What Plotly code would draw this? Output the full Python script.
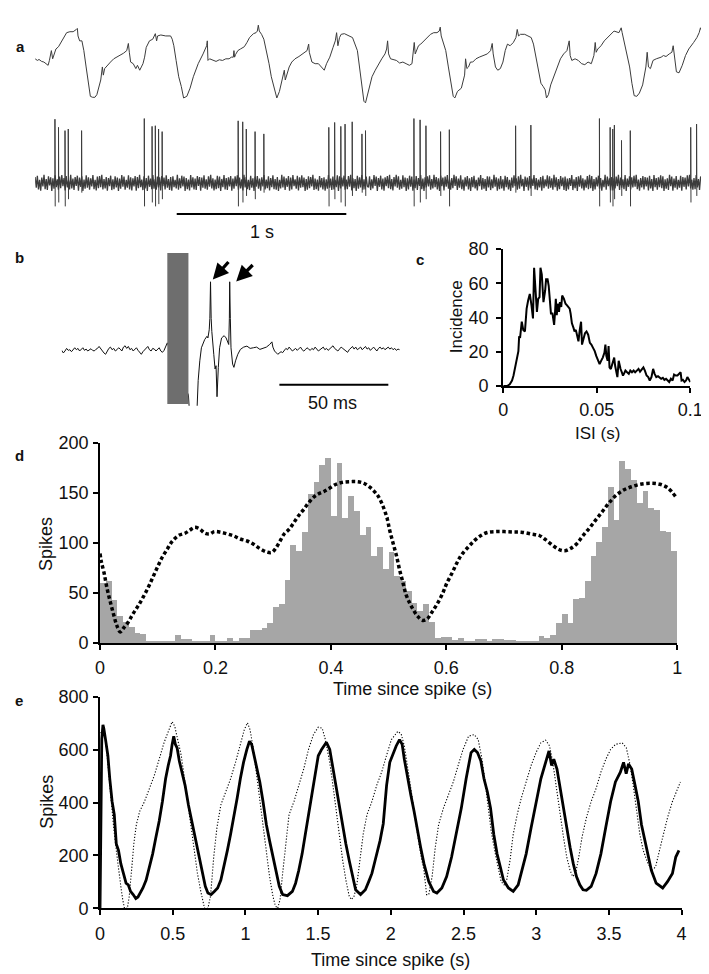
import numpy as np
import plotly.graph_objects as go

W, H = 709, 974

# ---------------- Panel a : field potential (sample index @ 522 Hz, amplitude a.u.)
A_FS = 522.0
A_TOP = [(0,125),(7,120),(12,123),(20,117),(27,115),(32,110),(40,105),(44,120),(50,150),(54,125),(58,140),(64,155),(72,162),(82,180),(90,195),(97,205),(107,208),(117,208),(127,215),(130,218),(132,195),(137,180),(144,180),(150,150),(157,100),(164,50),(170,10),(177,7),(184,7),(190,15),(196,40),(202,60),(207,100),(210,75),(214,95),(222,105),(232,115),(242,125),(252,130),(262,135),(272,142),(282,150),(287,172),(290,145),(294,115),(302,110),(310,95),(315,105),(322,90),(327,100),(332,110),(337,130),(342,160),(352,180),(362,185),(370,202),(374,180),(377,195),(387,198),(402,195),(417,195),(422,185),(427,165),(434,120),(442,70),(450,40),(457,5),(467,10),(477,35),(487,70),(502,110),(517,140),(528,165),(530,180),(532,120),(537,125),(547,120),(557,117),(567,122),(577,120),(587,125),(597,125),(604,130),(610,130),(612,150),(614,130),(617,138),(624,150),(632,155),(644,162),(652,175),(660,190),(672,202),(680,205),(684,210),(687,228),(690,210),(697,200),(704,185),(712,150),(720,110),(727,70),(735,35),(744,5),(752,25),(762,65),(767,90),(770,60),(777,80),(782,100),(790,115),(800,125),(812,132),(827,142),(837,150),(842,170),(844,145),(852,115),(862,110),(872,110),(882,100),(890,90),(897,110),(907,130),(917,160),(924,180),(928,205),(932,165),(937,190),(942,200),(952,202),(967,195),(977,190),
         (992,150),(1002,70),(1012,-5),(1017,-10),(1027,30),(1037,70),(1047,90),(1057,110),(1067,125),(1077,140),(1082,155),(1085,180),(1088,140),(1094,125),(1102,122),(1112,120),(1122,112),(1132,115),(1142,110),(1152,105),(1160,110),(1164,150),(1167,175),(1170,140),(1174,150),(1180,165),(1187,170),(1197,180),(1207,192),(1217,200),(1227,205),(1237,205),(1244,210),(1247,222),(1250,195),(1257,170),(1264,150),(1272,100),(1280,50),(1287,10),(1292,5),(1300,25),(1312,35),(1322,75),(1325,125),(1329,95),(1334,100),(1340,115),(1347,115),(1357,125),(1367,130),(1377,135),(1392,140),(1402,150),(1407,172),(1410,140),(1417,100),(1424,90),(1432,95),(1440,115),(1447,150),(1454,170),(1462,165),(1472,175),(1480,190),(1484,215),(1488,195),(1494,200),(1507,200),(1517,195),(1527,190),(1534,170),(1542,130),(1550,90),(1557,50),(1564,40),(1570,30),(1574,5),(1580,15),(1587,45),(1597,70),(1607,100),(1617,125),(1627,140),(1637,150),(1644,180),(1647,135),(1652,120),(1662,125),(1672,120),(1682,110),(1692,107),(1702,115),(1712,110),(1720,135),(1724,175),(1727,145),(1732,155),(1742,165),(1752,180),(1762,190),(1772,202),(1782,210),(1797,205),(1804,220),(1807,205),(1812,180),(1822,140),(1830,100),(1837,50),(1844,12),(1852,10),(1860,20),(1870,45),(1880,100),(1884,145),(1888,100),(1894,95),(1902,120),(1912,125),(1927,130),(1934,135),(1942,132),(1952,140),(1960,145),(1964,165),(1968,135),(1974,85),(1982,82),(1992,105),(2002,135),(2012,155),(2027,175),(2037,190),(2044,205),(2048,220),(2052,210)]

# unit spike recording: background noise (one value every 3.42 samples) + spikes (sample, top, bottom)
A_NOISE_STEP = 3.42
A_NOISE = [18,-15,22,-20,9,-24,16,-11,25,-19,12,-22,20,-8,17,-25,14,-18,23,-13,
           11,-21,19,-16,24,-10,15,-23,21,-14,8,-20,25,-17,13,-22,18,-9,22,-24,
           16,-12,20,-25,10,-18,23,-15,17,-21,14,-11,24,-19,9,-23,19,-16,21,-13,
           25,-20,12,-17,18,-24,15,-10,22,-22,11,-19,20,-14,16,-25,13,-18,24,-12,
           19,-21,9,-15,23,-20,17,-23,14,-11,21,-24,18,-16,25,-13,10,-22,20,-17,
           15,-25,22,-12,13,-19,24,-18,11,-21,19,-14,17,-23,21,-10,16,-20,23,-15,
           12,-22,18,-24,20,-13,9,-17,25,-21,14,-16,22,-11,19,-25,15,-19,10,-23,
           24,-14,17,-20,13,-22,21,-9,18,-24,16,-15,23,-18,11,-21,20,-12,25,-17,
           14,-23,10,-19,22,-16,19,-25,12,-13,24,-20,15,-22,17,-11,21,-24,13,-18,
           20,-10,23,-21,16,-17,11,-23,25,-14,18,-19,9,-22,22,-15,14,-25,19,-12,
           21,-18,13,-24,17,-11,24,-20,10,-16,20,-23,15,-13,23,-19,12,-21,18,-25,
           9,-17,25,-14,19,-22,14,-12,21,-24,16,-20,24,-10,11,-18,22,-23,17,-15,
           23,-13,16,-25,12,-21,20,-16,18,-11,25,-22,13,-19,10,-24,21,-14,15,-20,
           17,-24,11,-18,24,-15,13,-22,19,-20,9,-13,23,-25,20,-17,16,-11,22,-21,
           10,-19,21,-12,25,-23,14,-16,12,-25,22,-18,17,-14,24,-21,11,-20,19,-10,
           -14,20,-22,11,-17,24,-9,19,-25,15,-12,22,-20,13,-24,17,-10,21,-16,25,
           -19,12,-23,18,-11,25,-15,20,-21,9,-18,23,-13,16,-25,14,-20,22,-12,19,
           -24,10,-16,21,-22,15,-9,24,-19,13,-25,17,-14,20,-11,23,-21,12,-17,25,
           -13,18,-20,14,-25,22,-10,16,-23,19,-12,24,-18,11,-21,15,-16,25,-9,20,
           -22,13,-15,23,-19,10,-24,17,-11,21,-20,14,-25,18,-13,22,-17,9,-23,16,
           -10,24,-21,15,-18,12,-25,20,-14,19,-22,11,-16,25,-12,17,-24,13,-19,21,
           -17,11,-24,22,-13,18,-20,9,-25,16,-15,23,-10,14,-21,20,-18,25,-11,12,
           -25,19,-12,16,-23,21,-17,13,-9,24,-20,15,-22,10,-14,18,-24,22,-16,11,
           -11,23,-18,20,-15,14,-21,25,-13,17,-24,12,-19,21,-10,16,-22,19,-25,13,
           -20,15,-9,24,-22,11,-16,18,-25,20,-12,23,-17,14,-23,10,-15,21,-19,25,
           -16,21,-25,12,-20,17,-11,22,-18,15,-24,9,-13,25,-21,19,-10,14,-23,18,
           -23,14,-17,19,-10,25,-22,16,-15,11,-19,24,-25,13,-12,20,-20,17,-14,22,
           -12,25,-19,10,-24,15,-14,21,-20,18,-11,16,-23,22,-17,12,-25,24,-13,15,
           -21,17,-13,23,-16,20,-25,11,-18,14,-22,25,-10,19,-24,13,-15,21,-20,9,
           -15,22,-24,18,-12,16,-20,23,-11,25,-17,10,-21,15,-19,24,-14,12,-22,20]
A_SPIKES = [(61,195,-72),(72,170,-60),(92,160,-72),(102,165,-50),(143,160,-30),
            (336,197,-72),(360,173,-60),(370,175,-72),(380,165,-65),(391,157,-50),
            (625,190,-72),(639,187,-60),(650,165,-40),(677,157,-50),(704,150,-30),
            (904,170,-72),(922,185,-50),(941,173,-60),(954,180,-72),(976,187,-40),(1006,150,-30),(1017,160,-40),
            (1166,197,-72),(1185,193,-60),(1203,175,-50),(1248,157,-40),(1275,163,-72),
            (1479,175,-30),(1526,177,-40),
            (1737,197,-72),(1770,170,-60),(1778,165,-72),(1783,177,-50),(1805,130,-40),(1832,160,-72),
            (2018,170,-60),(2036,180,-40)]
A_SCALEBAR_S = (0.835, 1.835)

# ---------------- Panel b : evoked response (samples @ 6.72 kHz)
B_FS_MS = 6.72
B_TRACE = [(0,-3),(5,-11),(10,-5),(15,3),(20,-3),(25,-1),(30,-7),(35,0),(40,5),(45,-1),(50,3),(55,-5),(60,-1),(65,5),(70,-3),(75,1),(80,-5),(85,-1),(90,2),(95,-3),(100,-5),(105,0),(110,3),(115,9),(120,1),(125,-5),(130,-11),(135,-15),(140,-5),(145,3),(150,7),(155,-1),(160,3),(165,-5),(170,-1),(175,5),(180,1),(185,-5),(190,7),(195,11),(200,3),(205,9),(210,-1),(215,3),(220,-5),(225,-1),(230,5),(235,-3),(240,-9),(245,-15),(250,-7),(255,-1),(260,3),(265,9),(270,-1),(275,-5),(280,3),(285,1),(290,-5),(295,-1),(300,5),(305,-5),(310,-9),(315,-3),(320,7),(325,20),
           (390,-140),(395,-220),(415,-220),(417,-165),(420,-95),(425,-35),(430,5),(440,30),(447,40),(450,35),(454,60),(456,95),(458,207),(460,95),(462,55),(468,-15),(472,-60),(475,-50),(478,-145),(482,-55),(486,5),(492,35),(500,42),(506,35),(510,25),(514,15),(516,95),(517,207),(519,95),(521,5),(526,-45),(530,-55),(535,-35),(542,-15),(550,0),(560,7),(570,10),(580,3),(590,5),(600,7),(610,0),(620,3),(630,7),(640,15),(647,23),(650,7),(655,-5),(665,-15),(675,-7),
           (680,-10),(685,-3),(690,3),(695,-1),(700,7),(705,1),(710,-5),(715,-1),(720,3),(725,-3),(730,1),(735,7),(740,-1),(745,-5),(750,-1),(755,5),(760,1),(765,-3),(770,3),(775,-1),(780,7),(785,1),(790,-5),(795,-1),(800,3),(805,7),(810,-1),(815,3),(820,-3),(825,1),(830,7),(835,11),(840,3),(845,-1),(850,-5),(855,1),(860,7),(865,3),(870,-1),(875,-5),(880,-9),(885,-1),(890,5),(895,9),(900,1),(905,7),(910,-1),(915,3),(920,7),(925,-1),(930,3),(935,9),(940,1),(945,5),(950,-3),(955,3),(960,7),(965,1),(970,-5),(975,3),(980,7),(985,1),(990,5),(995,-1),(1000,3),(1005,7),(1010,1),(1015,5),(1020,-1),(1025,3),(1030,-3),(1035,1),(1040,-1)]
B_STIM = (325, 390)          # stimulus artefact window (samples)
B_SCALEBAR_MS = (99.7, 149.6)

# ---------------- Panel c : ISI histogram
C_ISI_MS = [0,2.1,3.5,4.7,5.5,6.4,7.3,8.1,8.5,9.0,9.9,10.7,11.6,12.5,13.3,14.2,15.1,15.9,16.5,17.2,18.0,18.7,19.4,19.9,20.6,21.5,22.4,22.9,23.7,24.3,25.0,25.5,26.3,27.2,27.7,28.1,28.6,29.1,29.8,30.3,31.0,31.5,32.4,33.3,34.1,35.0,35.5,36.0,36.7,37.6,38.1,38.8,39.7,40.2,40.9,41.6,42.1,42.8,43.7,44.5,45.4,46.3,47.1,48.0,48.9,49.7,50.6,51.5,52.3,53.2,54.1,54.6,55.1,55.8,56.3,56.8,57.5,58.2,58.9,59.3,59.8,60.3,61.0,61.7,62.2,62.7,63.4,64.0,64.5,65.3,66.2,67.1,67.9,68.8,69.7,70.5,71.4,72.3,73.1,74.0,74.9,75.7,76.6,77.5,78.3,79.2,80.1,80.9,81.8,82.7,83.5,84.4,85.3,86.1,87.0,87.9,88.7,89.6,90.5,91.3,92.2,93.1,93.9,94.8,95.3,96.0,96.9,97.7,98.4,99.1,100.0]
C_COUNT = [0,0,1.0,3.2,6.1,10.9,15.6,20.4,29.0,28.1,37.6,32.8,31.9,45.2,50.0,53.8,47.1,39.5,69.1,54.8,43.3,51.0,51.9,69.1,65.3,49.0,55.7,62.4,62.4,58.6,49.0,42.4,42.4,35.7,43.3,51.0,41.4,48.1,43.3,49.0,46.2,52.9,51.0,48.1,47.1,46.2,45.2,42.4,36.6,33.8,31.9,32.8,29.0,26.1,32.8,37.6,24.2,28.1,30.9,31.9,30.0,25.2,24.2,22.3,20.4,17.6,14.7,12.8,14.7,16.6,19.5,24.2,17.6,14.7,23.3,10.9,9.9,12.8,14.7,16.6,11.8,8.0,5.2,14.7,10.9,9.9,8.0,6.1,7.1,9.0,8.0,7.1,9.0,8.0,9.0,8.0,9.0,10.0,8.4,10.0,10.9,9.0,6.1,5.2,3.2,5.2,10.0,7.1,5.2,5.7,5.2,4.2,4.8,3.6,4.2,3.2,2.3,4.2,3.2,6.7,6.1,6.1,7.1,8.0,3.2,3.6,2.3,3.2,5.2,3.6,2.3]

# ---------------- Panel d : spike-triggered histogram (10 ms bins) + dotted LFP
D_BIN_S = 0.01
D_COUNTS = [60,62,43,27,21,16,10,9,1,2,2,1,1,8,4,4,2,1,1,8,1,1,5,1,5,5,13,13,15,20,
            36,39,63,98,92,111,149,161,178,185,127,180,125,147,132,108,116,87,96,74,
            91,67,62,52,40,32,39,21,5,6,6,3,5,2,1,4,4,2,4,4,3,3,1,1,1,1,7,5,8,20,
            29,20,44,45,62,87,101,116,156,123,182,174,163,140,152,135,133,112,111,92]
D_LFP_T = [0,0.002,0.007,0.012,0.018,0.024,0.029,0.035,0.041,0.049,0.057,0.066,0.074,0.083,0.091,0.100,0.108,0.117,0.125,0.136,0.148,0.156,0.164,0.173,0.181,0.190,0.198,0.209,0.221,0.232,0.243,0.255,0.266,0.277,0.288,0.297,0.304,0.311,0.319,0.328,0.336,0.345,0.353,0.361,0.370,0.378,0.388,0.398,0.409,0.421,0.435,0.446,0.457,0.468,0.480,0.488,
           0.497,0.502,0.508,0.514,0.519,0.525,0.530,0.536,0.542,0.550,0.559,0.567,0.575,0.584,0.593,0.601,0.610,0.618,0.626,0.638,0.649,0.660,0.671,0.685,0.700,0.716,0.730,0.747,0.761,0.772,0.784,0.795,0.805,0.815,0.826,0.837,0.849,0.860,0.871,0.882,0.894,0.908,0.922,0.936,0.953,0.970,0.984,0.998]
D_LFP_V = [89.5,82,70,55,40.5,27.5,17.6,11,15,21,29,37,45,55,65,76.5,86,94.4,101.6,107.5,110,113,115.7,114,110,109,111.4,110.8,109,107,104,102,98.7,94.4,91.2,90.5,94.4,101,109,114,120.6,128,133.7,140,145.8,149,151.6,155,158.8,160.8,161.4,161.4,159.8,155.6,148.4,140,
           125.5,112.4,99.3,86.3,73.2,60,48.7,40.5,34,26.8,22.5,24.2,30.7,38.9,48.7,60,70,79.7,87.9,96,102.6,107.5,110.5,111.4,111.4,111,110.8,109,107.5,103.3,97.7,93.5,92.2,94.4,99.3,107.5,115.7,123.9,132,140.2,147.7,153.3,156.5,158.8,159.8,158.8,155,145.8]

# ---------------- Panel e : long-range autocorrelation (solid) and model (dotted)
E_SOLID = [(0,0),(0.006,560),(0.012,640),(0.020,694),(0.026,680),(0.038,638),(0.054,577),(0.067,490),(0.083,404),(0.098,354),(0.112,243),(0.127,219),(0.143,169),(0.161,132),(0.179,95),(0.194,89),(0.210,64),(0.228,52),(0.246,37),(0.261,43),(0.277,60),(0.295,77),(0.317,107),(0.340,157),(0.362,206),(0.384,268),(0.407,330),(0.429,404),(0.451,490),(0.469,540),(0.485,577),(0.496,620),(0.507,651),(0.518,620),(0.530,607),(0.545,558),(0.563,515),(0.585,465),(0.608,391),(0.626,342),(0.641,305),(0.663,243),(0.686,188),(0.708,132),(0.724,83),(0.742,58),(0.764,52),(0.786,64),(0.809,77),(0.831,107),(0.853,157),(0.876,219),(0.898,280),(0.920,342),(0.943,416),(0.965,490),(0.987,552),(1.010,601),(1.028,632),(1.043,620),(1.059,577),(1.077,527),(1.099,478),(1.121,404),(1.144,317),(1.166,256),(1.189,194),(1.211,132),(1.233,83),(1.256,52),(1.289,48),(1.323,64),(1.345,95),(1.367,144),(1.390,206),(1.412,280),(1.434,354),(1.457,428),(1.479,515),(1.501,577),(1.524,601),(1.557,628),(1.580,601),(1.602,527),(1.624,453),(1.647,379),(1.669,305),(1.691,243),(1.714,181),(1.736,120),(1.758,70),(1.792,52),(1.825,70),(1.848,101),(1.870,132),(1.892,181),(1.926,256),(1.948,320),(1.971,465),(1.993,552),(2.015,583),(2.037,614),(2.060,638),(2.078,620),(2.093,564),(2.116,490),(2.138,428),(2.160,367),(2.183,293),(2.205,231),(2.228,169),(2.261,101),(2.294,64),(2.317,58),(2.351,77),(2.384,120),(2.418,194),(2.451,280),(2.485,379),(2.518,490),(2.552,589),(2.574,601),(2.596,589),(2.619,558),(2.641,490),(2.664,441),(2.686,379),(2.708,280),(2.731,206),(2.753,157),(2.775,107),(2.809,77),(2.842,64),(2.876,89),(2.898,132),(2.931,206),(2.965,305),(2.999,404),(3.032,490),(3.065,552),(3.088,595),(3.106,540),(3.121,564),(3.143,527),(3.165,453),(3.188,379),(3.210,305),(3.233,231),(3.255,169),(3.277,120),(3.300,89),(3.322,70),(3.345,68),(3.378,83),(3.412,132),(3.445,206),(3.478,305),(3.512,404),(3.545,478),(3.579,515),(3.601,552),(3.619,509),(3.635,546),(3.657,527),(3.680,465),(3.702,404),(3.724,317),(3.747,256),(3.769,194),(3.792,144),(3.825,95),(3.870,77),(3.903,101),(3.937,132),(3.960,194),(3.982,219)]
E_MODEL = [(0.004,663),(0.027,675),(0.045,601),(0.060,502),(0.076,404),(0.094,305),(0.112,219),(0.127,144),(0.143,83),(0.156,33),(0.168,0),(0.188,0),(0.201,46),(0.217,144),(0.232,243),(0.250,317),(0.273,367),(0.306,404),(0.340,453),(0.373,502),(0.407,564),(0.440,626),(0.474,675),(0.496,706),(0.514,688),(0.536,638),(0.559,577),(0.581,490),(0.603,404),(0.626,305),(0.648,219),(0.670,132),(0.693,64),(0.708,33),(0.719,0),(0.742,0),(0.760,46),(0.782,194),(0.804,305),(0.831,391),(0.865,441),(0.898,490),(0.932,552),(0.965,626),(0.992,675),(1.014,702),(1.032,675),(1.055,601),(1.077,502),(1.099,404),(1.122,305),(1.144,206),(1.166,120),(1.189,46),(1.206,9),(1.222,0),(1.238,33),(1.256,132),(1.278,256),(1.300,354),(1.334,404),(1.367,465),(1.401,527),(1.434,601),(1.468,657),(1.501,685),(1.528,681),(1.550,638),(1.580,552),(1.602,465),(1.625,367),(1.647,268),(1.669,181),(1.691,107),(1.714,46),(1.729,33),(1.747,46),(1.765,83),(1.787,181),(1.810,280),(1.836,354),(1.870,404),(1.903,465),(1.937,515),(1.970,577),(2.004,638),(2.048,669),(2.071,660),(2.093,614),(2.116,540),(2.138,453),(2.160,367),(2.183,280),(2.205,206),(2.228,144),(2.246,52),(2.261,52),(2.284,120),(2.306,231),(2.329,317),(2.362,379),(2.396,428),(2.430,478),(2.463,540),(2.497,601),(2.535,651),(2.574,657),(2.601,638),(2.623,577),(2.646,490),(2.668,391),(2.690,293),(2.719,206),(2.741,144),(2.759,101),(2.779,89),(2.797,107),(2.820,181),(2.842,280),(2.869,354),(2.897,416),(2.931,478),(2.965,540),(2.999,589),(3.032,626),(3.065,636),(3.092,614),(3.114,552),(3.137,465),(3.159,367),(3.188,268),(3.210,194),(3.233,144),(3.251,120),(3.271,132),(3.293,194),(3.315,268),(3.345,342),(3.378,404),(3.412,453),(3.445,515),(3.479,564),(3.512,601),(3.546,620),(3.591,626),(3.620,607),(3.642,552),(3.664,478),(3.686,379),(3.713,280),(3.736,219),(3.769,169),(3.798,144),(3.821,157),(3.848,219),(3.874,280),(3.903,342),(3.937,404),(3.970,453),(3.992,478)]

# ---------------- tick labels
C_XTICKS = [0, 0.05, 0.1]; C_XTEXT = ["0", "0.05", "0.1"]
C_YTICKS = [0, 20, 40, 60, 80]
D_XTICKS = [0, 0.2, 0.4, 0.6, 0.8, 1]; D_XTEXT = ["0", "0.2", "0.4", "0.6", "0.8", "1"]
D_YTICKS = [0, 50, 100, 150, 200]
E_XTICKS = [0, 0.5, 1, 1.5, 2, 2.5, 3, 3.5, 4]; E_XTEXT = ["0", "0.5", "1", "1.5", "2", "2.5", "3", "3.5", "4"]
E_YTICKS = [0, 200, 400, 600, 800]

# ====================================================================
FONT = "Liberation Sans, Arial, sans-serif"
TICKFONT = dict(family=FONT, size=18, color="#111")
TRACE_GRAY = "#3c3c3c"

def xd(l, r):
    return [l / W, r / W]

def yd(top, bottom):
    return [1 - bottom / H, 1 - top / H]

fig = go.Figure()

# a: top trace
fig.add_trace(go.Scatter(x=[p[0] / A_FS for p in A_TOP], y=[p[1] for p in A_TOP], mode="lines",
                         line=dict(color=TRACE_GRAY, width=1), xaxis="x", yaxis="y", hoverinfo="skip"))

# a: background noise of the unit recording
fig.add_trace(go.Scatter(x=[i * A_NOISE_STEP / A_FS for i in range(len(A_NOISE))], y=A_NOISE, mode="lines",
                         line=dict(color=TRACE_GRAY, width=1.3), xaxis="x2", yaxis="y2", hoverinfo="skip"))
# a: spikes (one vertical stroke each)
sx, sy = [], []
for s, top, bot in A_SPIKES:
    sx += [s / A_FS, s / A_FS, (s + 0.8) / A_FS, None]
    sy += [0, top, bot, None]
fig.add_trace(go.Scatter(x=sx, y=sy, mode="lines", line=dict(color=TRACE_GRAY, width=1),
                         xaxis="x2", yaxis="y2", hoverinfo="skip", connectgaps=False))

# b: evoked trace
fig.add_trace(go.Scatter(x=[p[0] / B_FS_MS for p in B_TRACE], y=[p[1] for p in B_TRACE], mode="lines",
                         line=dict(color="#111", width=1), xaxis="x3", yaxis="y3", hoverinfo="skip"))

# c: ISI histogram
fig.add_trace(go.Scatter(x=[v / 1000 for v in C_ISI_MS], y=C_COUNT, mode="lines",
                         line=dict(color="black", width=2), xaxis="x4", yaxis="y4", hoverinfo="skip"))

# d: bars + dotted LFP
d_centers = (np.arange(len(D_COUNTS)) + 0.5) * D_BIN_S
fig.add_trace(go.Bar(x=d_centers, y=D_COUNTS, width=D_BIN_S, marker=dict(color="#a6a6a6", line=dict(width=0)),
                     xaxis="x5", yaxis="y5", hoverinfo="skip"))
fig.add_trace(go.Scatter(x=D_LFP_T, y=D_LFP_V, mode="lines", line=dict(color="black", width=3.5, dash="3.5px,2.6px", shape="spline"),
                         xaxis="x5", yaxis="y5", hoverinfo="skip"))

# e: model (dotted) and data (solid)
fig.add_trace(go.Scatter(x=[p[0] for p in E_MODEL], y=[p[1] for p in E_MODEL], mode="lines",
                         line=dict(color="black", width=1.1, dash="1.2px,1.8px"), xaxis="x6", yaxis="y6", hoverinfo="skip"))
fig.add_trace(go.Scatter(x=[p[0] for p in E_SOLID], y=[p[1] for p in E_SOLID], mode="lines",
                         line=dict(color="black", width=2.8), xaxis="x6", yaxis="y6", hoverinfo="skip"))

hidden = dict(visible=False, fixedrange=True)
axstyle = dict(showline=True, linecolor="black", linewidth=2, ticks="outside", ticklen=5, tickwidth=1.5,
               tickcolor="black", showgrid=False, zeroline=False, tickfont=TICKFONT, fixedrange=True)

A_X_RANGE = [0, 2052 / A_FS]
fig.update_layout(
    width=W, height=H, margin=dict(l=0, r=0, t=0, b=0),
    paper_bgcolor="white", plot_bgcolor="rgba(0,0,0,0)", showlegend=False,
    font=dict(family=FONT, color="#111"),
    bargap=0,
    xaxis=dict(domain=xd(22.7, 706.7), range=A_X_RANGE, anchor="y", **hidden),
    yaxis=dict(domain=yd(5, 88.3), range=[-15, 235], anchor="x", **hidden),
    xaxis2=dict(domain=xd(22.7, 706.7), range=A_X_RANGE, anchor="y2", **hidden),
    yaxis2=dict(domain=yd(95, 205), range=[-110, 220], anchor="x2", **hidden),
    xaxis3=dict(domain=xd(50, 397), range=[0, 1041 / B_FS_MS], anchor="y3", **hidden),
    yaxis3=dict(domain=yd(235, 396), range=[-173, 310], anchor="x3", **hidden),
    xaxis4=dict(domain=xd(503, 695), range=[0, 0.1], anchor="y4", tickvals=C_XTICKS, ticktext=C_XTEXT,
                ticklabelstandoff=1, **axstyle),
    yaxis4=dict(domain=yd(236, 375.7), range=[0, 80], anchor="x4", tickvals=C_YTICKS, ticklabelstandoff=4, **axstyle),
    xaxis5=dict(domain=xd(89.3, 681.5), range=[0, 1], anchor="y5", tickvals=D_XTICKS, ticktext=D_XTEXT,
                ticklabelstandoff=3, **axstyle),
    yaxis5=dict(domain=yd(434, 638), range=[0, 200], anchor="x5", tickvals=D_YTICKS, ticklabelstandoff=1, **axstyle),
    xaxis6=dict(domain=xd(89.3, 686), range=[0, 4], anchor="y6", tickvals=E_XTICKS, ticktext=E_XTEXT,
                ticklabelstandoff=3, **axstyle),
    yaxis6=dict(domain=yd(693, 909), range=[0, 800], anchor="x6", tickvals=E_YTICKS, ticklabelstandoff=1, **axstyle),
)

shapes = [
    dict(type="line", xref="x2", yref="y2", x0=A_SCALEBAR_S[0], x1=A_SCALEBAR_S[1], y0=-95, y1=-95,
         line=dict(color="black", width=2)),
    dict(type="rect", xref="x3", yref="y3", x0=B_STIM[0] / B_FS_MS, x1=B_STIM[1] / B_FS_MS, y0=-167, y1=295,
         fillcolor="#6e6e6e", line=dict(width=0), layer="above"),
    dict(type="line", xref="x3", yref="y3", x0=B_SCALEBAR_MS[0], x1=B_SCALEBAR_MS[1], y0=-108, y1=-108,
         line=dict(color="black", width=2)),
]
fig.update_layout(shapes=shapes)

def txt(x, y, s, size=18, bold=False, angle=0):
    return dict(x=x / W, y=1 - y / H, xref="paper", yref="paper", text=("<b>%s</b>" % s) if bold else s,
                showarrow=False, xanchor="center", yanchor="middle", textangle=angle,
                font=dict(family=FONT, size=size, color="#111"))

def arrow(tipx, tipy, tailx, taily):
    return dict(x=tipx / W, y=1 - tipy / H, xref="paper", yref="paper", text="", showarrow=True,
                ax=tailx - tipx, ay=taily - tipy, arrowhead=2, arrowsize=0.95, arrowwidth=3.3,
                arrowcolor="black", standoff=0)

annotations = [
    txt(8, 29, "a", 15, True), txt(7, 245, "b", 15, True), txt(418, 247, "c", 15, True),
    txt(7, 447, "d", 15, True), txt(6, 697, "e", 15, True),
    txt(255, 218, "1 s"), txt(328, 393, "50 ms"),
    txt(455, 305, "Incidence", 17, angle=-90), txt(600, 424, "ISI (s)", 17),
    txt(34, 537, "Spikes", angle=-90), txt(410, 685, "Time since spike (s)"),
    txt(34, 800, "Spikes", angle=-90), txt(387, 962, "Time since spike (s)"),
    arrow(205, 267, 222, 248), arrow(229, 269, 247, 251),
]
fig.update_layout(annotations=annotations)

fig.write_html("out.html")
